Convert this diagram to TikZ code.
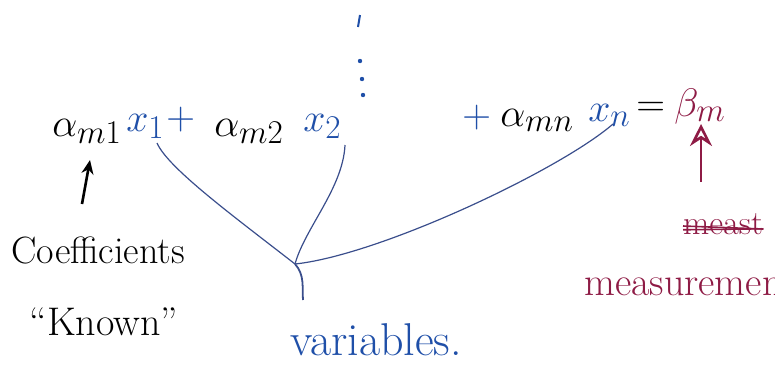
\documentclass[tikz,border=0pt]{standalone}
\usetikzlibrary{arrows.meta}
\definecolor{inkblue}{HTML}{1F4FA8}
\definecolor{lineblue}{HTML}{3A4E8C}
\definecolor{inkred}{HTML}{8E1B45}
\begin{document}
\begin{tikzpicture}[x=1pt,y=-1pt,
  mathbig/.style={inner sep=0pt,font=\Huge,scale=1.6},
  wordbig/.style={inner sep=0pt,font=\fontsize{38}{42}\selectfont},
  conn/.style={draw=lineblue,line width=1.2pt},
  penarrow/.style={line width=2.6pt,-{Stealth[length=14pt,width=12pt]}}]
\useasboundingbox (0,0) rectangle (775,365);
\clip (0,0) rectangle (775,365);
% equation pieces
\node[mathbig,anchor=base west] (a1) at (52,136) {$\alpha_{m1}$};
\node[mathbig,anchor=base west,text=inkblue] (x1) at (126,131) {$x_1$};
\node[mathbig,anchor=base west,text=inkblue] (p1) at (166,129) {$+$};
\node[mathbig,anchor=base west] (a2) at (214,136) {$\alpha_{m2}$};
\node[mathbig,anchor=base west,text=inkblue] (x2) at (303,131) {$x_2$};
\fill[inkblue] (360,61) circle (2.2pt) coordinate (d1);
\fill[inkblue] (362,79) circle (2.2pt) coordinate (d2);
\fill[inkblue] (363,95) circle (2.2pt) coordinate (d3);
\coordinate (tickA) at (360,15);
\coordinate (tickB) at (358,27);
\draw[inkblue,line width=2pt] (tickA) -- (tickB);
\node[mathbig,anchor=base west,text=inkblue] (p3) at (462,127) {$+$};
\node[mathbig,anchor=base west] (a3) at (500,126) {$\alpha_{mn}$};
\node[mathbig,anchor=base west,text=inkblue] (xn) at (588,121) {$x_n$};
\node[mathbig,anchor=base west] (eq) at (636,116) {$=$};
\node[mathbig,anchor=base west,text=inkred] (beta) at (674,116) {$\beta_m$};
% labels
\node[wordbig] (coef) at (98,250) {Coefficients};
\node[wordbig,font=\fontsize{40}{44}\selectfont] (known) at (104,322) {``Known''};
\node[wordbig,text=inkblue,font=\fontsize{46}{50}\selectfont] (vars) at (376,340) {variables.};
\node[wordbig,text=inkred,anchor=west,font=\fontsize{40}{44}\selectfont] (meas) at (584,283) {measurements};
\node[wordbig,text=inkred,anchor=west,font=\fontsize{34}{38}\selectfont] (measx) at (683,224) {meast};
\draw[inkred,line width=1.6pt] ([yshift=-2pt]measx.west) -- ([yshift=-5pt]measx.east);
\draw[inkred,line width=1.6pt] ([yshift=5pt]measx.south west) -- ([yshift=6pt]measx.south east);
% arrows
\coordinate (arrA) at (82,204);
\coordinate (arrB) at (90,160);
\draw[penarrow] (arrA) -- (arrB);
\coordinate (arrC) at (701,182);
\coordinate (arrD) at (701,124);
\draw[penarrow,inkred,-{Stealth[open,length=22pt,width=22pt]}] (arrC) -- (arrD);
% connectors
\coordinate (e1) at (157,143);
\coordinate (e2) at (345,145);
\coordinate (en) at (613,124);
\coordinate (J) at (295,264);
\coordinate (stem) at (303,300);
\draw[conn] (e1) .. controls (168,168) and (232,215) .. (J);
\draw[conn] (e2) .. controls (343,188) and (305,228) .. (J);
\draw[conn] (en) .. controls (560,170) and (380,255) .. (J);
\draw[conn,line width=1.8pt] (J) .. controls (305,275) and (302,288) .. (stem);
\end{tikzpicture}
\end{document}
